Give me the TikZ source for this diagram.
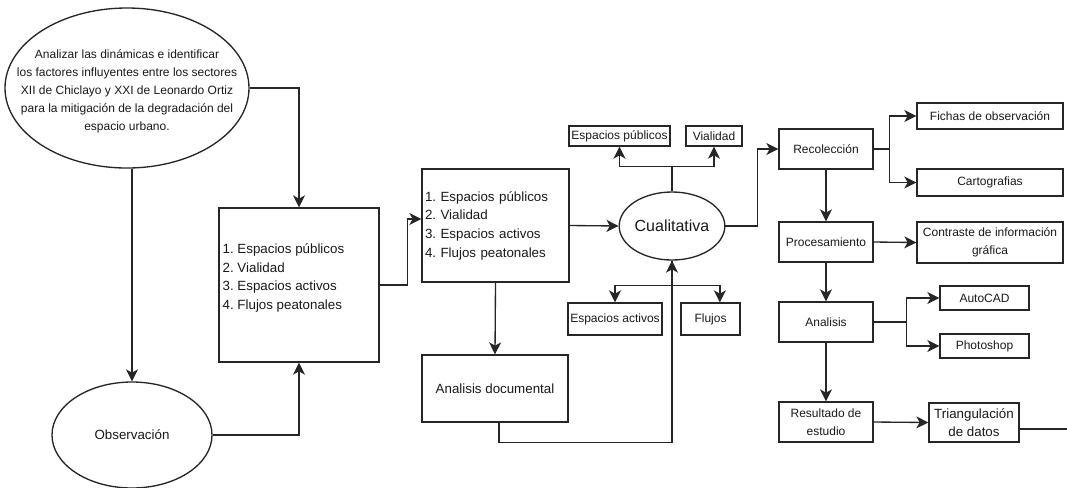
\documentclass[tikz,border=0pt]{standalone}
\usepackage{fontspec}
\setmainfont{Liberation Sans}
\usetikzlibrary{arrows.meta,shapes.geometric}
\def\pu{0.75pt}
\frenchspacing
\begin{document}
\begin{tikzpicture}[x=0.75pt,y=-0.75pt,
 line width=1pt, draw=black!85, text=black!90,
 arr/.style={-{Stealth[length=9pt,width=9pt,inset=2.5pt]}},
 wh/.style 2 args={minimum width=#1*\pu, minimum height=#2*\pu},
 box/.style={draw, rectangle, inner sep=1pt, align=center, font=\fontsize{9}{13.5}\selectfont},
 ell/.style={draw, ellipse, inner sep=0pt, align=center},
 list/.style={align=left, font=\fontsize{10}{14}\selectfont},
]
\useasboundingbox (0,0) rectangle (1067,487);

% left part
\node[ell, wh={244}{160}] (obj) at (127,88) {};
\node[inner sep=0pt, align=center, font=\fontsize{9}{13.5}\selectfont] (objt) at (127,91)
 {Analizar las dinámicas e identificar\\los factores influyentes entre los sectores\\XII de Chiclayo y XXI de Leonardo Ortiz\\para la mitigación de la degradación del\\espacio urbano.};
\node[ell, wh={160}{106}, font=\fontsize{10}{12}\selectfont] (obs) at (132,435) {Observación};

\node[draw, wh={160}{154}] (b1) at (299,285) {};
\node[list, anchor=west, inner sep=0pt] (b1t) at (222,278)
 {1. Espacios públicos\\2. Vialidad\\3. Espacios activos\\4. Flujos peatonales};

\draw[arr] (obj.east) -| (b1.north);
\draw[arr] (obj.south -| obs.north) -- (obs.north);
\draw[arr] (obs.east) -| (b1.south);

% middle
\node[draw, list, wh={147}{113}, text width=141*\pu, inner sep=3*\pu] (b2) at (495.5,225.5)
 {1. Espacios públicos\\2. Vialidad\\3. Espacios activos\\4. Flujos peatonales};
\draw[arr] (b1.east) -- ++(28,0) |- ([yshift=4.9pt]b2.west);

\node[ell, wh={101}{68}, font=\fontsize{12}{14}\selectfont] (cual) at (672,226) {Cualitativa};
\draw[arr] (b2.east) -- (cual.west);

\node[box, wh={101}{20}] (ep) at (619.5,136) {Espacios públicos};
\node[box, wh={56}{20}] (vi) at (714,136) {Vialidad};
\draw[arr] (cual.north) -- ++(0,-25) -| (ep.south);
\draw[arr] (cual.north) -- ++(0,-25) -| (vi.south);

\node[box, wh={94}{32}] (ea) at (615,319) {Espacios activos};
\node[box, wh={59}{32}] (fl) at (710.5,319) {Flujos};
\draw[arr] (cual.south) -- ++(0,25) -| (ea.north);
\draw[arr] (cual.south) -- ++(0,25) -| ([xshift=7pt]fl.north);

\node[box, wh={146}{67}, font=\fontsize{10}{12}\selectfont] (ad) at (495,388.5) {Analisis documental};
\draw[arr] (b2.south) -- (ad.north);
\draw[arr] ([xshift=3pt]ad.south) -- ++(0,20) -| (cual.south);

% right
\node[box, wh={94}{40}] (rec) at (826,149) {Recolección};
\draw[arr] (cual.east) -- ++(32,0) |- (rec.west);
\node[box, wh={146}{26}] (fi) at (990,116) {Fichas de observación};
\node[box, wh={146}{27}] (ca) at (990,182.5) {Cartografias};
\draw[arr] (rec.east) -- ++(16,0) |- (fi.west);
\draw[arr] (rec.east) -- ++(16,0) |- (ca.west);

\node[box, wh={94}{40}] (pro) at (826,242) {Procesamiento};
\draw[arr] (rec.south) -- (pro.north);
\node[box, wh={146}{41}] (con) at (990,242.5) {Contraste de información\\gráfica};
\draw[arr] (pro.east) -- (con.west);

\node[box, wh={94}{40}] (ana) at (826,322) {Analisis};
\draw[arr] (pro.south) -- (ana.north);
\node[box, wh={89}{24}] (au) at (984.5,298) {AutoCAD};
\node[box, wh={89}{24}] (ph) at (984.5,346) {Photoshop};
\draw[arr] (ana.east) -- ++(33,0) |- (au.west);
\draw[arr] (ana.east) -- ++(33,0) |- (ph.west);

\node[box, wh={94}{40}] (res) at (826,422) {Resultado de\\estudio};
\draw[arr] (ana.south) -- (res.north);
\node[box, wh={90}{39}, font=\fontsize{10}{13.5}\selectfont] (tri) at (974,422.5) {Triangulación\\de datos};
\draw[arr] (res.east) -- (tri.west);
\coordinate (fin) at (1067,429);
\draw (tri.east |- fin) -- (fin);
\end{tikzpicture}
\end{document}
